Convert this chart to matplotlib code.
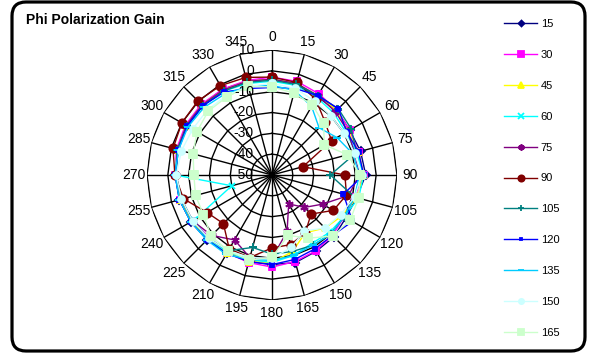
import numpy as np
import matplotlib
matplotlib.use("Agg")
import matplotlib.pyplot as plt
from matplotlib.patches import FancyBboxPatch
from matplotlib.transforms import ScaledTranslation

plt.rcParams['font.family'] = ['Liberation Sans', 'DejaVu Sans']

angles_deg = [0, 15, 30, 45, 60, 75, 90, 105, 120, 135, 150, 165,
              180, 195, 210, 225, 240, 255, 270, 285, 300, 315, 330, 345]
angle_labels = [str(a) for a in angles_deg]
radial_ticks = [10, 0, -10, -20, -30, -40, -50]

series_names = ['15', '30', '45', '60', '75', '90', '105', '120', '135', '150', '165']

s15 = [-4, -5, -6.7, -6, -7, -6, -5, -8, -9, -8, -7.7, -6.5, -7, -7, -7, -6, -5, -4, -3.5, -3, -2.5, -2.5, -2.5, -3.5]
s30 = [-3, -3.5, -5, -6, -7, -7, -6, -9, -10, -9, -8, -7, -5.8, -6.5, -7, -7.5, -6, -4.5, -3.5, -2.5, -2, -2, -2.5, -3]
s45 = [-4, -4.5, -6, -6, -8, -7, -6, -8, -11, -14, -18, -12, -8, -7, -7, -6.5, -5.5, -4.5, -3.5, -3, -2.5, -2.5, -3, -3.5]
s60 = [-5, -5.5, -7, -8, -9, -8, -6, -7, -10, -11, -12, -10, -8, -8, -7.5, -6, -7, -30, -3.5, -3, -3, -3, -3.5, -4.5]
s75 = [-4, -4.5, -6, -7, -8, -9, -8, -12, -22, -28, -34, -22, -10, -9, -14, -9, -6, -5, -4, -3, -2.5, -2.5, -3, -3.5]
s90 = [-3, -4, -8, -14, -17, -34.6, -15, -13, -16, -23.5, -18, -15.4, -15, -9, -9, -17, -14, -6, -3.4, -0.8, 0, 0.3, -0.5, -1.5]
s105 = [-4.5, -5, -6, -5, -6, -8, -22, -9, -10, -10, -11, -12, -12, -14, -8, -7, -6, -5, -4, -3, -3, -3, -3.5, -4]
s120 = [-8, -7, -6, -5, -8.6, -7, -6, -14.5, -5.4, -9, -9, -8, -7, -7, -6.5, -6, -5, -4, -3.5, -3.5, -3, -3, -4, -7]
s135 = [-7, -8, -12, -18, -14, -10, -8, -9, -10, -10, -11, -10, -9, -8, -6, -5.8, -5, -4, -3.5, -3.5, -3.5, -4, -5, -6]
s150 = [-6, -7, -9, -10, -10, -9, -7, -9, -12, -14, -19, -14, -10, -9, -8, -7, -6, -5, -4, -5, -6, -6, -6, -6]
s165 = [-7.7, -9.3, -11.2, -15, -21, -12.5, -7.7, -7, -6.7, -8.6, -15, -20, -10.5, -7.7, -8, -8.6, -12, -12, -12.5, -10.8, -8.4, -6.7, -6.7, -6]

all_series = [s15, s30, s45, s60, s75, s90, s105, s120, s135, s150, s165]

colors = ['#000080', '#FF00FF', '#FFFF00', '#00FFFF', '#800080', '#800000',
          '#008080', '#0000FF', '#00CCFF', '#CCFFFF', '#CCFFCC']
markers = ['D', 's', '^', 'x', (6, 2, 0), 'o', '+', 's', '_', 'o', 's']
msizes = [4, 5, 5, 5, 6, 6, 6, 2.5, 6, 5, 6]

W, H = 589, 354
fig = plt.figure(figsize=(W / 100, H / 100), dpi=100)
fig.patch.set_facecolor('white')

# rounded chart border
border = FancyBboxPatch((0.12, 0.03), 5.73, 3.49,
                        boxstyle="round,pad=0,rounding_size=0.14",
                        transform=fig.dpi_scale_trans, facecolor='none',
                        edgecolor='black', linewidth=2.3, zorder=10)
fig.patches.append(border)

fig.text(26 / W, 1 - 20 / H, 'Phi Polarization Gain', fontsize=10,
         fontweight='bold', ha='left', va='center')

cx, cy, R = 272, 175, 125
ax = fig.add_axes([(cx - R) / W, 1 - (cy + R) / H, 2 * R / W, 2 * R / H],
                  projection='polar')
ax.set_theta_zero_location('N')
ax.set_theta_direction(-1)
ax.set_ylim(-50, 10)
ax.grid(False)
ax.set_xticks([])
ax.set_yticks([])
ax.spines['polar'].set_visible(False)
ax.patch.set_visible(False)

theta = np.deg2rad(angles_deg)
theta_closed = np.append(theta, theta[0])

# polygonal grid
for r in radial_ticks:
    rr = np.full(len(theta_closed), r)
    ax.plot(theta_closed, rr, color='black', lw=1.0, zorder=1)
for t in theta:
    ax.plot([t, t], [-50, 10], color='black', lw=1.0, zorder=1)

# series
handles = []
for name, vals, c, m, ms in zip(series_names, all_series, colors, markers, msizes):
    v = np.append(vals, vals[0])
    ln, = ax.plot(theta_closed, v, color=c, marker=m, markersize=ms,
                  markerfacecolor=c, markeredgecolor=c, mew=1.3, lw=1.0,
                  label=name, zorder=3)
    handles.append(ln)

# angle labels
for t, lab in zip(theta, angle_labels):
    ax.text(t, 16.3, lab, ha='center', va='center', fontsize=10, clip_on=False)

# radial labels
off = ax.transData + ScaledTranslation(-0.18, 0, fig.dpi_scale_trans)
for r in radial_ticks:
    ax.text(0, r, str(r), ha='right', va='center', fontsize=10,
            transform=off, clip_on=False)

fig.legend(handles=handles, loc='upper left',
           bbox_to_anchor=(504 / W, 1 - 19 / H), frameon=False,
           fontsize=8, labelspacing=1.88, handlelength=3.0,
           handletextpad=0.3, borderpad=0, borderaxespad=0, markerscale=0.75)

fig.savefig('out.png', dpi=100)
